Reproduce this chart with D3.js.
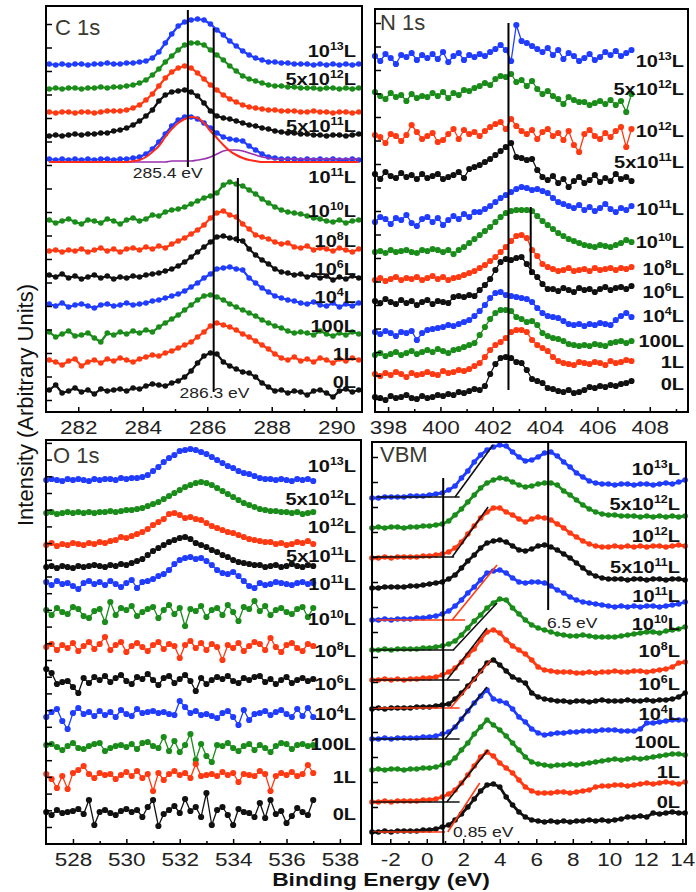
<!DOCTYPE html>
<html>
<head>
<meta charset="utf-8">
<script src="https://cdn.jsdelivr.net/npm/d3@7"></script>
<style>
  body { margin: 0; background: #fff; }
  text { font-family: "Liberation Sans", Arial, sans-serif; }
</style>
</head>
<body>
<div id="wrapper"></div>
<script>
// exposures, top curve to bottom curve (same order in every panel)
const exposures = ["10^13", "5x10^12", "10^12", "5x10^11", "10^11", "10^10", "10^8", "10^6", "10^4", "100", "1", "0"];
const curveColors = ["#1f3cff", "#1a8c1a", "#ff3a12", "#111111",
                     "#1f3cff", "#1a8c1a", "#ff3a12", "#111111",
                     "#1f3cff", "#1a8c1a", "#ff3a12", "#111111"];

// ---------- C 1s ----------
const c1sTicks = [282, 284, 286, 288, 290];
const c1sMinor = [281, 283, 285, 287, 289];
const c1sStart = 281.1, c1sStep = 0.2;
const c1sOffsets = [347, 323, 299, 276, 252, 191, 161, 133, 106, 77, 50, 21];
const c1sLabelY = [355, 327, null, 280, 229, 195, 165, 137, 109, 80, 52, 24];
const c1sValues = [
  [1,0,1,0,1,1,0,1,1,2, 1,1,2,2,3,4,7,13,22,31, 39,43,45,46,45,41,35,30,24,19, 14,10,7,5,3,3,2,2,1,1, 1,0,1,0,1,0,1,0,1],
  [0,1,0,1,1,0,1,1,2,1, 2,2,3,4,6,9,14,20,27,33, 39,44,46,46,44,39,34,29,23,18, 13,10,8,6,4,3,3,2,2,1, 1,1,0,1,1,0,1,0,1],
  [1,0,1,1,0,1,1,0,1,2, 2,2,3,5,8,13,19,27,35,41, 45,47,45,40,34,28,23,18,14,11, 8,6,5,4,3,3,2,2,2,1, 1,2,1,1,0,1,1,0,1],
  [0,1,0,1,2,1,2,2,3,3, 5,6,8,11,15,20,26,35,41,44, 45,46,44,40,33,25,20,18,17,15, 13,11,10,8,7,5,4,3,3,2, 2,1,1,0,1,1,0,1,2],
  [1,0,1,0,1,0,1,0,1,1, 0,1,1,2,3,6,11,18,26,34, 40,43,43,41,37,32,27,23,21,20, 19,14,10,6,3,2,1,1,1,0, 1,0,1,0,1,0,0,1,0],
  [1,-2,0,2,-1,-3,1,0,-2,2, 0,-3,1,3,0,2,6,5,9,11, 12,14,17,20,23,25,28,36,39,37, 35,31,27,22,18,14,11,9,8,7, 5,3,2,0,-1,1,-2,0,1],
  [0,1,-1,1,0,2,-1,1,3,0, 2,-1,2,3,1,4,2,5,3,7, 10,13,17,21,26,33,38,40,36,34, 27,22,16,14,12,9,7,8,4,3, 5,1,3,2,0,3,1,-1,2],
  [4,2,5,1,3,0,2,4,1,3, 0,2,1,3,2,4,5,6,8,10, 13,17,22,27,32,37,42,43,41,40, 38,30,24,19,15,10,7,6,4,5, 2,4,1,3,-1,2,0,3,1],
  [2,0,3,-1,1,2,0,-2,1,2, 0,1,3,1,2,3,5,6,8,10, 12,15,19,23,28,32,37,38,39,37, 36,28,23,18,14,10,8,6,5,3, 2,4,1,0,3,-1,2,0,3],
  [3,-2,1,4,-1,0,2,-3,-7,2, 0,3,1,4,2,5,3,8,12,16, 20,25,30,35,39,40,38,35,31,28, 25,22,19,15,12,9,7,4,2,3, 2,0,4,1,-1,2,0,3,1],
  [2,0,-3,1,3,-4,0,2,-1,3, 1,4,2,0,3,5,7,6,9,11, 14,17,20,25,30,36,39,37,35,32, 28,25,21,17,13,8,4,2,5,1, 3,0,4,2,-1,3,1,4,2],
  [1,6,-2,0,3,-1,1,-3,2,0, 1,2,0,3,2,5,7,6,5,8, 10,14,20,28,35,38,37,29,25,22, 19,18,14,8,4,0,1,-2,0,-1, -4,0,1,-2,-6,0,2,-1,1]
];
// peak fit of the 10^11 L spectrum and its background
const c1sFitOffset = 250;
const c1sFit = [0,0,0,0,0,0,0,0,0,0, 0,0,0,1,2,5,10,16,25,33, 39,43,45,44,39,31,24,17,11,7, 4,2,1,0,0,0,0,0,0,0, 0,0,0,0,0,0,0,0,0];
const c1sBackground = [0,0,0,0,0,0,0,0,0,0, 0,0,0,0,0,0,0,0,0,1, 1,1,1,2,3,5,8,11,12,12, 11,9,7,5,4,3,3,3,3,3, 3,3,3,3,3,3,3,3,3];
const c1sGuides = [[285.4, 245, 285.4, 402], [286.2, 20, 286.2, 384], [286.95, 169, 286.95, 234]];
const c1sNotes = [["285.4 eV", 283.69, 234], ["286.3 eV", 285.14, 14]];

// ---------- N 1s ----------
const n1sTicks = [398, 400, 402, 404, 406, 408];
const n1sMinor = [399, 401, 403, 405, 407, 409];
const n1sStart = 397.5, n1sStep = 0.2;
const n1sOffsets = [354, 312, 275, 235, 192, 160, 132, 110, 79, 57, 37, 14];
const n1sLabelY = [345, 317, 275, 244, 197, 164, 137, 114, 90, 65, 44, 22];
const n1sValues = [
  [2,-3,4,0,-6,3,1,5,-2,3, 0,4,-1,6,-4,2,5,-2,3,1, 4,2,6,9,13,8,-3,33,17,15, 12,9,6,10,3,8,-1,5,2,-3, 0,4,-2,1,6,3,7,2,5,8],
  [8,4,1,7,3,5,-1,6,2,4, 3,7,4,8,2,7,5,10,9,12, 14,17,15,21,24,23,26,18,20,14, 19,11,6,9,4,1,-4,3,0,-2, -2,-5,-3,-1,-4,0,-5,-1,-12,6],
  [2,0,-6,3,1,-4,2,12,5,-2, 1,4,-5,-3,3,8,-2,7,3,5, 1,6,10,13,15,8,18,11,6,3, 7,-2,5,8,1,4,-3,6,-8,-15, 3,7,1,-2,4,0,6,10,-10,8],
  [3,-2,5,1,-1,4,0,2,-2,3, -1,1,3,-2,0,2,5,-1,8,10, 12,15,18,22,26,30,34,20,19,17, 18,7,0,-3,1,-6,-2,-10,-4,0, -6,-3,2,-5,-1,-4,3,-2,0,-4],
  [-2,3,1,-4,2,0,5,-3,-6,1, 3,-2,2,-5,0,4,1,6,3,8, 8,11,14,18,22,25,28,31,33,32, 30,31,29,27,22,18,16,14,12,15, 10,13,9,12,16,11,8,12,10,14],
  [0,1,-1,2,0,1,2,0,-1,2, 1,3,2,0,2,-2,2,5,9,13, 17,21,25,30,35,39,41,42,42,42, 41,36,31,27,23,19,16,13,11,9, 7,6,5,7,6,5,7,9,12,10],
  [0,2,-1,1,3,0,2,1,3,0, 2,4,1,3,0,2,3,5,7,9, 12,15,19,23,28,33,39,44,45,42, 30,24,16,13,11,9,10,12,9,10, 11,9,12,10,11,12,10,12,11,13],
  [1,-1,3,0,-2,2,-1,1,-3,0, 2,-2,1,0,-1,5,6,5,7,6, 12,17,23,32,40,43,42,44,45,38, 30,25,18,13,13,11,14,12,10,14, 12,13,10,13,15,12,14,15,13,16],
  [1,-1,2,0,-3,1,0,2,-7,0, 3,4,5,6,8,7,9,11,13,17, 22,28,35,40,41,38,37,36,35,34, 31,25,20,17,16,15,12,9,8,9, 7,9,8,10,9,8,13,17,20,16],
  [0,2,-1,1,3,0,2,4,1,3, 5,3,6,4,2,5,6,8,10,12, 20,28,36,42,45,45,44,38,36,33, 34,30,22,19,17,16,14,11,10,9, 10,9,11,10,9,12,13,14,12,14],
  [1,-1,2,0,3,1,-2,2,0,1, 3,1,0,4,2,3,5,4,6,9, 12,18,25,30,33,37,43,45,45,43, 35,30,27,24,18,14,12,11,10,13, 12,11,13,12,10,14,12,13,15,14],
  [1,0,-2,2,0,1,3,0,-1,2, 0,1,3,2,4,3,6,5,7,9, 8,12,24,34,40,41,40,36,35,28, 19,17,15,10,9,7,6,8,5,6, 8,11,10,12,11,13,12,14,15,17]
];
const n1sGuides = [[402.6, 22, 402.6, 389], [403.45, 137, 403.45, 205]];

// ---------- O 1s ----------
const o1sTicks = [528, 530, 532, 534, 536, 538];
const o1sMinor = [529, 531, 533, 535, 537];
const o1sStart = 527, o1sStep = 0.2;
const o1sOffsets = [364, 331, 299, 277, 260, 232, 196, 163, 129, 96, 68, 31];
const o1sLabelY = [372, 339, 311, 282, 254, 219, 187, 154, 124, 94, 61, 24];
const o1sValues = [
  [0,1,0,-1,1,0,1,0,-1,1, 0,1,1,0,2,1,2,2,3,5, 9,13,18,22,25,29,30,31,30,28, 26,23,20,17,14,12,9,7,6,4, 2,1,1,0,1,0,-1,1,0,1,-1],
  [0,1,-1,0,1,0,1,0,1,0, 1,1,2,1,2,3,3,4,5,7, 9,11,14,17,20,23,26,28,30,31, 30,28,25,22,19,16,13,10,8,6, 4,3,2,2,1,1,0,1,-1,0,1],
  [0,2,-1,1,0,2,1,0,2,1, 3,2,4,5,8,7,9,11,13,16, 20,23,26,31,32,30,27,28,26,25, 22,19,17,15,13,12,10,8,6,5, 4,3,3,1,2,0,1,3,2,4,1],
  [0,1,-1,1,0,-1,1,0,1,2, 1,0,2,1,3,2,4,6,8,12, 16,19,22,25,27,29,30,28,24,22, 20,17,15,12,10,7,5,4,3,2, 2,0,1,2,0,1,3,1,0,2,1],
  [2,-1,3,0,1,-2,-5,1,3,0, 2,-1,3,0,-3,1,4,-4,2,3, 5,8,10,14,20,24,26,27,25,26, 23,19,14,11,10,12,8,3,-2,-4, 1,-1,0,2,1,0,-1,1,2,0,1],
  [2,-3,4,0,-2,5,3,-4,-6,1, 3,-10,10,-3,4,2,6,-4,0,3, 5,-6,2,7,-2,4,-14,3,1,6, -5,2,4,-3,7,0,-9,5,3,11, 1,6,-3,2,4,0,-2,3,5,-5,4],
  [1,4,-2,3,0,5,-3,2,6,-1, 4,11,-2,3,6,-4,2,5,1,-3, 3,6,-1,4,2,-10,3,7,0,5, -2,4,1,-12,3,0,5,-3,2,6, 4,-2,10,1,-4,3,5,0,-3,4,2],
  [12,8,-3,-1,0,-6,-12,3,-2,4, 1,5,-1,3,6,0,-3,4,2,7, 1,-4,3,5,-2,2,6,0,-10,3, -3,1,4,2,5,0,-2,3,1,4, 5,-1,2,-3,1,4,-2,1,3,0,2],
  [-2,3,6,-6,-14,2,7,1,3,-1, 4,0,3,-2,5,1,-1,6,2,3, 4,2,3,1,0,14,8,2,4,0, 1,-1,-3,2,4,-2,-10,5,-5,1, 2,4,0,3,5,1,-2,6,-1,7,-2],
  [3,4,1,-2,2,5,0,-1,2,4, 5,-3,0,2,3,1,4,-1,5,6, 2,0,11,-3,7,-4,3,14,-12,4, -8,-14,3,2,5,0,-3,2,4,-2, 3,0,-4,2,5,4,-1,3,4,2,3],
  [2,-3,-12,0,-13,3,6,10,2,-2, 3,1,2,-3,1,4,0,5,-2,2, -15,3,-4,2,5,1,3,-2,12,0, 1,2,0,4,1,3,-6,2,1,0, 5,2,-15,0,3,1,4,0,2,11,3],
  [1,-2,3,0,1,2,4,-1,13,-12, 1,3,0,-2,2,4,1,3,-4,6, 13,-13,-1,3,7,0,14,2,6,-4, 20,-12,3,6,-2,-12,4,1,0,-4, 10,-5,13,-1,2,-10,-3,5,1,-2,13]
];

// ---------- VBM ----------
const vbmTicks = [-2, 0, 2, 4, 6, 8, 10, 12, 14];
const vbmMinor = [-3, -1, 1, 3, 5, 7, 9, 11, 13];
const vbmStart = -3, vbmStep = 0.35;
const vbmOffsets = [346, 316, 286, 256, 224, 194, 164, 135, 105, 74, 42, 12];
const vbmLabelY = [369, 334, 302, 271, 242, 214, 187, 154, 124, 96, 66, 36];
const vbmValues = [
  [0,0,1,1,1,1,2,2,2,3, 4,5,8,12,20,27,36,43,48,51, 53,52,46,41,37,38,41,45,46,42, 36,31,25,21,17,15,14,14,13,14, 14,13,14,14,13,14,15,14,16,18],
  [0,1,0,1,1,0,1,1,2,2, 3,4,7,13,19,26,33,40,45,48, 50,49,46,43,41,42,44,45,45,43, 37,33,28,23,19,16,14,13,13,12, 12,12,11,12,11,12,11,12,11,12],
  [0,0,1,0,1,1,1,1,2,2, 3,4,6,10,16,24,32,40,46,50, 50,46,43,39,36,39,41,40,38,34, 30,25,21,17,14,12,11,11,12,11, 12,11,12,11,12,12,11,12,13,12],
  [0,0,1,1,1,1,2,2,3,4, 5,6,9,13,20,27,33,40,45,47, 48,46,42,38,37,39,42,43,41,38, 34,30,25,20,15,12,10,9,9,9, 8,9,9,8,9,9,8,9,9,8],
  [0,0,1,0,1,1,1,2,2,3, 4,6,9,14,20,27,33,40,47,49, 50,47,42,38,37,38,38,37,34,30, 27,23,20,18,17,16,15,14,13,14, 13,14,13,14,14,13,14,15,16,18],
  [0,0,1,0,1,1,1,1,2,2, 3,4,6,9,15,22,29,35,42,47, 51,50,42,36,30,25,22,20,18,16, 15,14,14,15,14,13,13,13,13,14, 15,16,17,18,18,17,19,20,21,23],
  [0,0,1,0,1,0,1,1,2,2, 3,5,8,12,18,25,31,40,48,50, 47,40,34,30,26,20,13,10,9,8, 8,8,7,7,8,7,8,8,9,8, 8,9,9,8,9,10,11,13,17,18],
  [0,1,0,1,1,1,1,2,2,2, 3,4,5,10,16,23,30,38,46,49, 44,38,32,29,26,16,12,10,9,8, 8,7,8,8,7,8,9,8,8,8, 9,8,8,9,8,9,9,10,12,16],
  [0,0,1,0,1,1,1,1,2,2, 3,5,7,12,20,28,36,43,49,40, 38,36,30,22,17,10,6,4,5,6, 6,7,7,8,8,8,9,9,9,8, 8,8,10,16,16,17,18,19,19,19],
  [0,1,0,1,1,0,1,1,2,2, 3,5,7,12,20,27,36,43,50,45, 40,34,27,20,13,8,6,5,4,5, 5,6,5,6,7,8,9,10,11,10, 11,12,11,12,13,14,15,16,16,15],
  [0,0,1,0,1,1,1,1,2,2, 3,5,8,12,19,27,36,45,50,46, 39,34,29,22,15,11,9,9,9,10, 10,9,10,11,12,15,16,16,17,17, 16,17,18,19,18,19,20,19,18,20],
  [0,0,1,0,1,1,1,1,2,2, 3,5,7,12,18,25,33,41,47,48, 45,35,27,20,15,12,11,10,11,10, 11,10,11,11,12,11,12,11,12,13, 15,15,16,15,19,18,19,20,19,19]
];
const vbmGuides = [[0.9, 0, 0.9, 366], [6.65, 234, 6.65, 401]];
// baseline and leading-edge fits: [color, e0, i0, e1, i1]
const vbmEdges = [
  ["#111", -2.75, 347, 1.8, 347], ["#111", 1.55, 347, 3.63, 399],
  ["#111", -3, 287, 1.5, 287],    ["#111", 1.39, 287, 3.36, 337],
  ["#ff3a12", -2.75, 224, 2.1, 224], ["#ff3a12", 1.39, 224, 3.85, 279],
  ["#111", -3, 194, 1.5, 194],    ["#111", 1.45, 194, 3.85, 241],
  ["#111", -3, 164, 1.8, 164],    ["#111", 1.1, 164, 3.3, 216],
  ["#ff3a12", -3, 136, 1.8, 136], ["#ff3a12", 1.3, 136, 3.5, 184],
  ["#111", -3, 105, 1.8, 105],    ["#111", 1.0, 105, 3.3, 157],
  ["#111", -3, 42, 1.8, 42],      ["#111", 1.1, 42, 3.35, 94],
  ["#ff3a12", -3, 12, 1.0, 12],   ["#ff3a12", 1.15, 12, 2.9, 61]
];
const vbmNotes = [["6.5 eV", 6.58, 216], ["0.85 eV", 1.44, 7]];

// ---------- layout ----------
const panels = [
  { title: "C 1s", box: [46, 6, 362, 412], xDomain: [281, 290.8], ticks: c1sTicks, minor: c1sMinor,
    start: c1sStart, step: c1sStep, values: c1sValues, offsets: c1sOffsets, labelY: c1sLabelY,
    guides: c1sGuides, notes: c1sNotes, edges: [], yTick0: 12, yTickStep: 23.5, r: 2.8, lw: 2.2, titlePos: [9, 29], labelRight: 356 },
  { title: "N 1s", box: [375, 9, 688, 412], xDomain: [397.5, 409.46], ticks: n1sTicks, minor: n1sMinor,
    start: n1sStart, step: n1sStep, values: n1sValues, offsets: n1sOffsets, labelY: n1sLabelY,
    guides: n1sGuides, notes: [], edges: [], yTick0: 13, yTickStep: 23.5, r: 3.1, lw: 1.3, titlePos: [5, 21], labelRight: 684 },
  { title: "O 1s", box: [46, 440, 361, 844], xDomain: [526.99, 538.79], ticks: o1sTicks, minor: o1sMinor,
    start: o1sStart, step: o1sStep, values: o1sValues, offsets: o1sOffsets, labelY: o1sLabelY,
    guides: [], notes: [], edges: [], yTick0: 17, yTickStep: 16.7, r: 3.1, lw: 1.3, titlePos: [7, 23], labelRight: 356 },
  { title: "VBM", box: [372, 442, 686, 844], xDomain: [-3, 14.2], ticks: vbmTicks, minor: vbmMinor,
    start: vbmStart, step: vbmStep, values: vbmValues, offsets: vbmOffsets, labelY: vbmLabelY,
    guides: vbmGuides, notes: vbmNotes, edges: vbmEdges, yTick0: 12, yTickStep: 25, r: 2.8, lw: 2.8, titlePos: [8, 20], labelRight: 680 }
];

const svg = d3.select("#wrapper").append("svg")
  .attr("width", 696)
  .attr("height", 892);

function addExposureLabel(g, text, x, y) {
  const t = g.append("text")
    .attr("transform", `translate(${x},${y}) scale(1.25,1)`)
    .attr("text-anchor", "end")
    .attr("font-weight", "bold")
    .attr("font-size", 16)
    .attr("fill", "#111");
  const m = text.match(/^(.*?)\^(\d+)$/);
  if (m) {
    t.append("tspan").text(m[1]);
    t.append("tspan").attr("font-size", 10).attr("dy", -7).text(m[2]);
    t.append("tspan").attr("dy", 7).text("L");
  } else {
    t.text(text + "L");
  }
}

panels.forEach(p => {
  const [x0, y0, x1, y1] = p.box;
  const xScaler = d3.scaleLinear().domain(p.xDomain).range([x0, x1]);
  const yScaler = d3.scaleLinear().domain([0, y1 - y0]).range([y1, y0]);
  const g = svg.append("g");

  // spectra
  p.values.forEach((vals, k) => {
    const pts = vals.map((v, i) => [p.start + i * p.step, p.offsets[k] + v]);
    const color = curveColors[k];
    const lineGenerator = d3.line()
      .x(d => xScaler(d[0]))
      .y(d => yScaler(d[1]));
    g.append("path")
      .attr("d", lineGenerator(pts))
      .attr("fill", "none")
      .attr("stroke", color)
      .attr("stroke-width", p.lw);
    g.append("g").selectAll("circle")
      .data(pts)
      .join("circle")
      .attr("cx", d => xScaler(d[0]))
      .attr("cy", d => yScaler(d[1]))
      .attr("r", p.r)
      .attr("fill", color);
  });

  // C 1s peak fit
  if (p.title === "C 1s") {
    const fitLine = d3.line()
      .x((d, i) => xScaler(p.start + i * p.step))
      .y(d => yScaler(c1sFitOffset + d))
      .curve(d3.curveMonotoneX);
    g.append("path").attr("d", fitLine(c1sBackground))
      .attr("fill", "none").attr("stroke", "#9a2fb0").attr("stroke-width", 1.6);
    g.append("path").attr("d", fitLine(c1sFit))
      .attr("fill", "none").attr("stroke", "#ff2a1a").attr("stroke-width", 2);
  }

  // fitted edges and guide lines
  p.edges.forEach(([c, ea, ia, eb, ib]) => {
    g.append("line")
      .attr("x1", xScaler(ea)).attr("y1", yScaler(ia))
      .attr("x2", xScaler(eb)).attr("y2", yScaler(ib))
      .attr("stroke", c).attr("stroke-width", 1.6);
  });
  p.guides.forEach(([ea, ia, eb, ib]) => {
    g.append("line")
      .attr("x1", xScaler(ea)).attr("y1", yScaler(ia))
      .attr("x2", xScaler(eb)).attr("y2", yScaler(ib))
      .attr("stroke", "#000").attr("stroke-width", 2);
  });
  p.notes.forEach(([txt, e, v]) => {
    g.append("text")
      .attr("transform", `translate(${xScaler(e)},${yScaler(v)}) scale(1.25,1)`)
      .attr("font-size", 14)
      .attr("fill", "#222")
      .text(txt);
  });

  // exposure labels
  exposures.forEach((ex, k) => {
    if (p.labelY[k] == null) return;
    addExposureLabel(g, ex, p.labelRight, yScaler(p.labelY[k]));
  });

  // axes
  g.append("g")
    .attr("transform", `translate(0,${y1})`)
    .call(d3.axisBottom(xScaler).tickValues(p.ticks).tickSizeInner(-5).tickSizeOuter(0).tickFormat(d => String(d)))
    .call(a => a.select(".domain").remove())
    .call(a => a.selectAll("line").attr("stroke", "#000").attr("stroke-width", 1.5))
    .call(a => a.selectAll("text")
      .attr("y", 22).attr("dy", null)
      .attr("transform", "scale(1.25,1)")
      .attr("font-size", 18)
      .attr("font-family", "Liberation Sans, Arial, sans-serif")
      .attr("fill", "#222"));
  g.append("g")
    .attr("transform", `translate(0,${y1})`)
    .call(d3.axisBottom(xScaler).tickValues(p.minor.filter(v => v > p.xDomain[0] && v < p.xDomain[1])).tickSizeInner(-3).tickSizeOuter(0).tickFormat(""))
    .call(a => a.select(".domain").remove())
    .call(a => a.selectAll("line").attr("stroke", "#000").attr("stroke-width", 1.5));
  g.append("g")
    .attr("transform", `translate(${x0},0)`)
    .call(d3.axisLeft(yScaler).tickValues(d3.range(p.yTick0, y1 - y0, p.yTickStep)).tickSizeInner(-6).tickSizeOuter(0).tickFormat(""))
    .call(a => a.select(".domain").remove())
    .call(a => a.selectAll("line").attr("stroke", "#000").attr("stroke-width", 1.5));

  // frame
  g.append("rect")
    .attr("x", x0).attr("y", y0)
    .attr("width", x1 - x0).attr("height", y1 - y0)
    .attr("fill", "none").attr("stroke", "#000").attr("stroke-width", 2);

  // panel title
  g.append("text")
    .attr("x", x0 + p.titlePos[0])
    .attr("y", y0 + p.titlePos[1])
    .attr("font-size", 22)
    .attr("fill", "#3a3a30")
    .text(p.title);
});

// axis titles
svg.append("text")
  .attr("transform", "translate(33,405) rotate(-90)")
  .attr("text-anchor", "middle")
  .attr("font-size", 22)
  .attr("fill", "#111")
  .text("Intensity (Arbitrary Units)");

svg.append("text")
  .attr("transform", "translate(381,886) scale(1.2,1)")
  .attr("text-anchor", "middle")
  .attr("font-size", 19)
  .attr("font-weight", "bold")
  .attr("fill", "#111")
  .text("Binding Energy (eV)");
</script>
</body>
</html>
